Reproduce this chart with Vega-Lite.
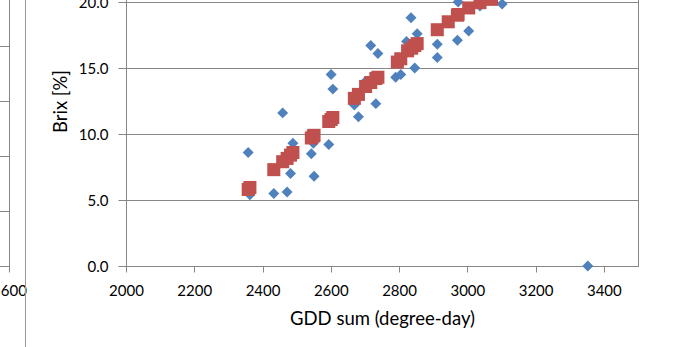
{
  "$schema": "https://vega.github.io/schema/vega-lite/v6.json",
  "background": "white",
  "padding": {"left": -32, "top": -65, "right": 0, "bottom": 0},
  "bounds": "flush",
  "spacing": 16,
  "config": {
    "font": "Lato",
    "view": {"stroke": null},
    "axis": {
      "labelFont": "Lato",
      "titleFont": "Lato",
      "labelColor": "#000000",
      "titleColor": "#000000",
      "labelFontSize": 15,
      "titleFontSize": 18.5,
      "titleFontWeight": "normal",
      "labelFlush": false,
      "domainColor": "#868686",
      "tickColor": "#868686",
      "gridColor": "#868686",
      "gridOpacity": 1,
      "tickSize": 6
    }
  },
  "datasets": {
    "observed": [
      {"gdd": 2358, "brix": 8.6}, {"gdd": 2363, "brix": 5.4}, {"gdd": 2433, "brix": 5.5},
      {"gdd": 2459, "brix": 11.6}, {"gdd": 2472, "brix": 5.6}, {"gdd": 2482, "brix": 7.0},
      {"gdd": 2489, "brix": 9.3}, {"gdd": 2543, "brix": 8.5}, {"gdd": 2549, "brix": 9.3},
      {"gdd": 2551, "brix": 6.8}, {"gdd": 2594, "brix": 9.2}, {"gdd": 2601, "brix": 14.5},
      {"gdd": 2606, "brix": 13.4}, {"gdd": 2669, "brix": 12.2}, {"gdd": 2681, "brix": 11.3},
      {"gdd": 2702, "brix": 14.0}, {"gdd": 2717, "brix": 16.7}, {"gdd": 2732, "brix": 12.3},
      {"gdd": 2738, "brix": 16.1}, {"gdd": 2790, "brix": 14.3}, {"gdd": 2805, "brix": 14.5},
      {"gdd": 2822, "brix": 17.0}, {"gdd": 2835, "brix": 18.8}, {"gdd": 2846, "brix": 15.0},
      {"gdd": 2853, "brix": 17.6}, {"gdd": 2912, "brix": 16.8}, {"gdd": 2912, "brix": 15.8},
      {"gdd": 2971, "brix": 17.1}, {"gdd": 2973, "brix": 20.0}, {"gdd": 3004, "brix": 17.8},
      {"gdd": 3037, "brix": 19.7}, {"gdd": 3102, "brix": 19.85}, {"gdd": 3353, "brix": 0.0}
    ],
    "model": [
      {"gdd": 2358, "brix": 5.8}, {"gdd": 2363, "brix": 5.95}, {"gdd": 2433, "brix": 7.3},
      {"gdd": 2459, "brix": 7.9}, {"gdd": 2472, "brix": 8.15}, {"gdd": 2482, "brix": 8.4},
      {"gdd": 2489, "brix": 8.6}, {"gdd": 2543, "brix": 9.7}, {"gdd": 2549, "brix": 9.85},
      {"gdd": 2551, "brix": 9.9}, {"gdd": 2594, "brix": 10.95}, {"gdd": 2601, "brix": 11.1},
      {"gdd": 2606, "brix": 11.25}, {"gdd": 2669, "brix": 12.7}, {"gdd": 2681, "brix": 13.0},
      {"gdd": 2702, "brix": 13.6}, {"gdd": 2717, "brix": 13.9}, {"gdd": 2732, "brix": 14.2},
      {"gdd": 2738, "brix": 14.3}, {"gdd": 2795, "brix": 15.45}, {"gdd": 2805, "brix": 15.7},
      {"gdd": 2825, "brix": 16.3}, {"gdd": 2837, "brix": 16.5}, {"gdd": 2846, "brix": 16.7},
      {"gdd": 2853, "brix": 16.85}, {"gdd": 2912, "brix": 17.9}, {"gdd": 2944, "brix": 18.5},
      {"gdd": 2971, "brix": 19.0}, {"gdd": 2973, "brix": 19.05}, {"gdd": 3004, "brix": 19.55},
      {"gdd": 3037, "brix": 19.95}, {"gdd": 3071, "brix": 20.2}
    ],
    "none": []
  },
  "hconcat": [
    {
      "width": 40,
      "height": 330,
      "view": {"stroke": "#868686"},
      "data": {"name": "none"},
      "mark": {"type": "point"},
      "encoding": {
        "x": {
          "field": "gdd", "type": "quantitative",
          "scale": {"domain": [1400, 1600], "nice": false, "zero": false},
          "axis": {"values": [1600], "format": "d", "grid": false, "title": null, "labelPadding": 11}
        },
        "y": {
          "field": "brix", "type": "quantitative",
          "scale": {"domain": [0, 30], "nice": false},
          "axis": {"values": [0, 5, 10, 15, 20, 25, 30], "grid": true, "labels": false, "ticks": false, "domain": false, "title": null}
        }
      }
    },
    {
      "width": 85,
      "height": 420,
      "data": {"name": "none"},
      "mark": {"type": "point"},
      "encoding": {
        "y": {
          "field": "brix", "type": "quantitative",
          "scale": {"domain": [0, 1], "nice": false},
          "axis": {"values": [], "grid": false, "labels": false, "ticks": false, "domain": true, "title": null, "domainColor": "#9a9a9a"}
        }
      }
    },
    {
      "width": 512,
      "height": 330,
      "view": {"stroke": "#868686"},
      "encoding": {
        "x": {
          "field": "gdd", "type": "quantitative",
          "scale": {"domain": [2000, 3500], "nice": false, "zero": false},
          "axis": {
            "values": [2000, 2200, 2400, 2600, 2800, 3000, 3200, 3400],
            "format": "d",
            "grid": false,
            "title": "GDD sum (degree-day)",
            "labelPadding": 11,
            "titlePadding": 11
          }
        },
        "y": {
          "field": "brix", "type": "quantitative",
          "scale": {"domain": [0, 25], "nice": false},
          "axis": {
            "values": [0, 5, 10, 15, 20],
            "format": ".1f",
            "grid": true,
            "title": "Brix [%]",
            "tickSize": 8,
            "labelPadding": 10,
            "titlePadding": 8
          }
        }
      },
      "layer": [
        {
          "data": {"name": "observed"},
          "mark": {"type": "point", "shape": "diamond", "filled": true, "size": 120, "color": "#4F81BD", "opacity": 1}
        },
        {
          "data": {"name": "model"},
          "mark": {"type": "square", "size": 170, "color": "#C0504D", "opacity": 1}
        }
      ]
    }
  ]
}
